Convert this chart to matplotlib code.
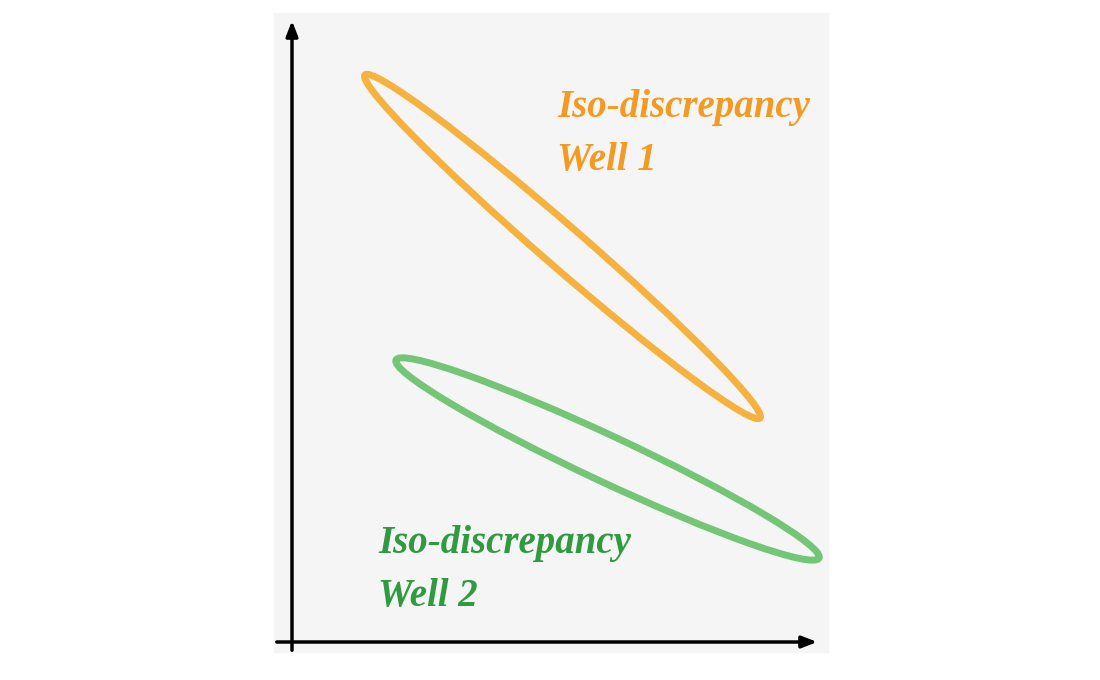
import matplotlib
matplotlib.use("Agg")
import matplotlib.pyplot as plt
import numpy as np
from matplotlib.patches import Ellipse, Rectangle

# ellipse end points (pixel-like coordinates, y downward) and minor widths
well_names = ["Well 1", "Well 2"]
tip_a = [(365, 75), (396, 360)]
tip_b = [(760, 418), (819, 558)]
minor = [41, 46]
label_pos = [(557, 117), (378, 553)]

line_colors = ["#F7B13F", "#72C676"]
text_colors = ["#F29A22", "#2F9A40"]

fig = plt.figure(figsize=(11, 6.8), dpi=100)
ax = fig.add_axes([0, 0, 1, 1])
ax.set_xlim(0, 1100)
ax.set_ylim(680, 0)
ax.axis("off")

ax.add_patch(Rectangle((274, 13), 554, 639, color="#f5f5f5", zorder=0))

for i in range(len(well_names)):
    a = np.array(tip_a[i], float)
    b = np.array(tip_b[i], float)
    c = (a + b) / 2
    d = b - a
    length = np.hypot(*d)
    ang = np.degrees(np.arctan2(d[1], d[0]))
    ax.add_patch(Ellipse(c, length, minor[i], angle=ang, fill=False,
                         edgecolor=line_colors[i], lw=5, zorder=2))
    x, y = label_pos[i]
    ax.text(x, y, "Iso-discrepancy", color=text_colors[i], fontsize=28,
            family="Liberation Serif", weight="bold", style="italic", va="baseline")
    ax.text(x, y + 53, well_names[i], color=text_colors[i], fontsize=28,
            family="Liberation Serif", weight="bold", style="italic", va="baseline")

# axes arrows
arrow = dict(arrowstyle="-|>,head_length=0.9,head_width=0.35", color="black", lw=2.5)
ax.annotate("", xy=(292, 18), xytext=(292, 653), arrowprops=arrow)
ax.annotate("", xy=(820, 642), xytext=(274, 642), arrowprops=arrow)

fig.savefig("out.png", dpi=100)
